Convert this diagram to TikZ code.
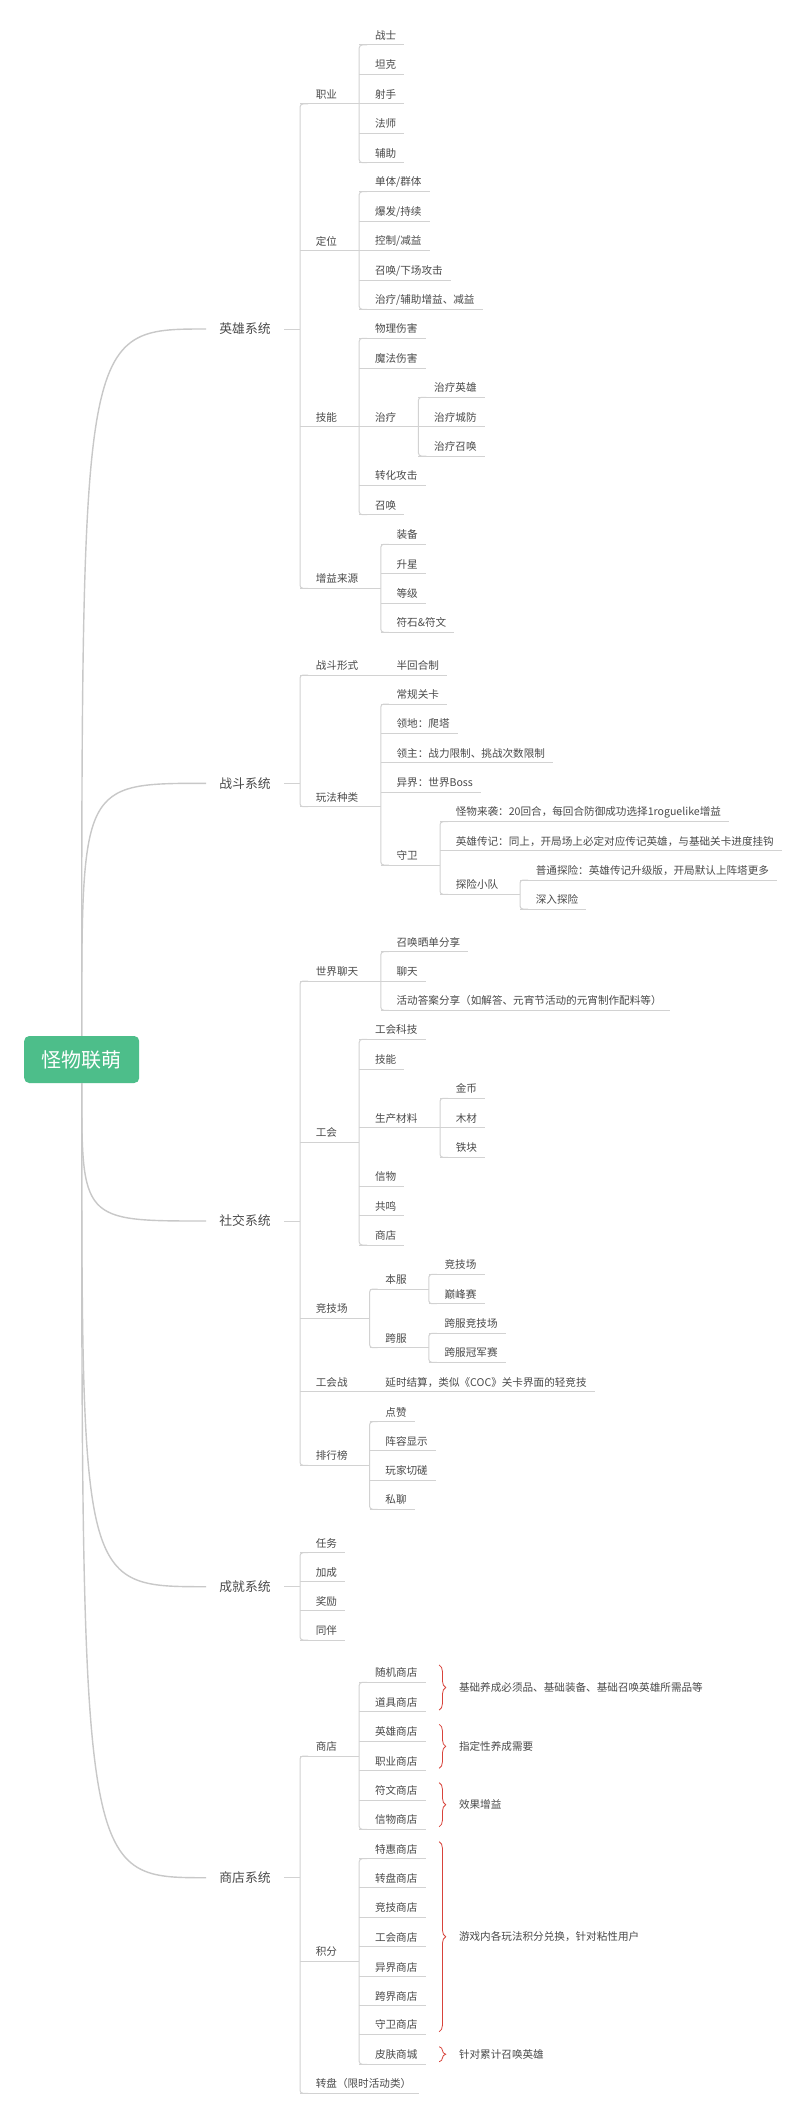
\documentclass[tikz,border=0pt]{standalone}
\usepackage{fontspec}
\newfontfamily\cjk{Noto Sans CJK SC}
\usetikzlibrary{calc,decorations.pathreplacing}
\definecolor{txtc}{HTML}{4A4A4A}
\definecolor{linec}{HTML}{D2D2D2}
\definecolor{curvec}{HTML}{C8C8C8}
\definecolor{rootc}{HTML}{4DBE8A}
\definecolor{bracec}{HTML}{D8433B}
% leaf: name, x of line start, y of line, text
\newcommand\lfnode[4]{%
  \coordinate (#1-s) at (#2,#3);
  \node[txt] (#1) at (#2+15.6,#3-9.5) {#4};
  \draw[sub] (#1-s) -- ($(#1.east |- #1-s)+(8,0)$);
}
% parent: name, x start, y line, text, x end
\newcommand\prnode[5]{%
  \coordinate (#1-s) at (#2,#3);
  \coordinate (#1-e) at (#5,#3);
  \node[txt] (#1) at (#2+15.6,#3-9.5) {#4};
  \draw[sub] (#1-s) -- (#1-e);
}
% main topic: name, y, text
\newcommand\mtnode[3]{%
  \node[maintxt] (#1) at (219.2,#2) {#3};
  \coordinate (#1-in) at (206,#2);
  \coordinate (#1-v) at (300,#2);
  \draw[sub] ($(#1.east)+(13.6,0)$) -- (#1-v);
}
% vertical connector between first and last child
\newcommand\vcon[2]{%
  \draw[conn] ($(#1-s)+(8,0)$) -- (#1-s) -- (#2-s) -- ($(#2-s)+(8,0)$);
}
\begin{document}
\begin{tikzpicture}[x=1pt,y=-1pt,
  txt/.style={anchor=west, inner sep=0pt, font=\cjk\fontsize{10.6}{12}\selectfont, text=txtc},
  maintxt/.style={anchor=west, inner sep=0pt, font=\cjk\fontsize{12.8}{15}\selectfont, text=txtc},
  sub/.style={draw=linec, line width=1pt},
  conn/.style={draw=linec, line width=1pt, rounded corners=3pt},
  curve/.style={draw=curvec, line width=1.4pt},
  brc/.style={draw=bracec, line width=0.8pt, decorate, decoration={brace, amplitude=6.5pt}},
  rootbox/.style={fill=rootc, rounded corners=5pt, minimum width=115pt, minimum height=47pt, text=white, font=\cjk\fontsize{20}{24}\selectfont, inner sep=0pt}]
\fill[white] (0,0) rectangle (810,2119);
\useasboundingbox (0,0) rectangle (810,2119);

% root
\node[rootbox] (root) at (81.7,1059.5) {怪物联萌};

% ===== 英雄系统 =====
\mtnode{hero}{329}{英雄系统}
\prnode{zy}{300}{104}{职业}{359.2}
\lfnode{zs}{359.2}{45}{战士}
\lfnode{tk}{359.2}{74.3}{坦克}
\lfnode{ss}{359.2}{104}{射手}
\lfnode{fs}{359.2}{133.3}{法师}
\lfnode{fz}{359.2}{162.7}{辅助}
\vcon{zs}{fz}
\prnode{dw}{300}{250.7}{定位}{359.2}
\lfnode{dt}{359.2}{191.7}{单体/群体}
\lfnode{bf}{359.2}{221}{爆发/持续}
\lfnode{kz}{359.2}{250.7}{控制/减益}
\lfnode{zh}{359.2}{280}{召唤/下场攻击}
\lfnode{zl}{359.2}{309.3}{治疗/辅助增益、减益}
\vcon{dt}{zl}
\prnode{jn}{300}{426.7}{技能}{359.2}
\lfnode{wl}{359.2}{338.3}{物理伤害}
\lfnode{mf}{359.2}{368.3}{魔法伤害}
\prnode{zlq}{359.2}{426.7}{治疗}{418.4}
\lfnode{zlyx}{418.4}{397.3}{治疗英雄}
\lfnode{zlcf}{418.4}{426.7}{治疗城防}
\lfnode{zlzh}{418.4}{456}{治疗召唤}
\vcon{zlyx}{zlzh}
\lfnode{zhgj}{359.2}{485.3}{转化攻击}
\lfnode{zhh}{359.2}{514.7}{召唤}
\vcon{wl}{zhh}
\prnode{zyly}{300}{588.3}{增益来源}{380.8}
\lfnode{zb}{380.8}{544.3}{装备}
\lfnode{sx}{380.8}{573.7}{升星}
\lfnode{dj}{380.8}{603}{等级}
\lfnode{fw}{380.8}{632.3}{符石\&符文}
\vcon{zb}{fw}
\vcon{zy}{zyly}

% ===== 战斗系统 =====
\mtnode{battle}{783.3}{战斗系统}
\prnode{zdxs}{300}{675}{战斗形式}{380.8}
\lfnode{bhhz}{380.8}{675}{半回合制}
\prnode{wfzl}{300}{806.7}{玩法种类}{380.8}
\lfnode{cggk}{380.8}{704}{常规关卡}
\lfnode{ld}{380.8}{733.3}{领地：爬塔}
\lfnode{lz}{380.8}{762.7}{领主：战力限制、挑战次数限制}
\lfnode{yj}{380.8}{792}{异界：世界Boss}
\prnode{sw}{380.8}{865}{守卫}{440}
\lfnode{gwlx}{440}{821.7}{怪物来袭：20回合，每回合防御成功选择1roguelike增益}
\lfnode{yxzj}{440}{850.7}{英雄传记：同上，开局场上必定对应传记英雄，与基础关卡进度挂钩}
\prnode{txxd}{440}{894.3}{探险小队}{520}
\lfnode{pttx}{520}{880}{普通探险：英雄传记升级版，开局默认上阵塔更多}
\lfnode{srtx}{520}{909}{深入探险}
\vcon{pttx}{srtx}
\vcon{gwlx}{txxd}
\vcon{cggk}{sw}
\vcon{zdxs}{wfzl}

% ===== 社交系统 =====
\mtnode{social}{1221}{社交系统}
\prnode{sjlt}{300}{981}{世界聊天}{380.8}
\lfnode{zhsd}{380.8}{951.7}{召唤晒单分享}
\lfnode{lt}{380.8}{981}{聊天}
\lfnode{hdda}{380.8}{1010.3}{活动答案分享（如解答、元宵节活动的元宵制作配料等）}
\vcon{zhsd}{hdda}
\prnode{gh}{300}{1142.3}{工会}{359.2}
\lfnode{ghkj}{359.2}{1039.3}{工会科技}
\lfnode{ghjn}{359.2}{1069.3}{技能}
\prnode{sccl}{359.2}{1127.7}{生产材料}{440}
\lfnode{jb}{440}{1098.3}{金币}
\lfnode{mc}{440}{1127.7}{木材}
\lfnode{tkk}{440}{1157.3}{铁块}
\vcon{jb}{tkk}
\lfnode{xw}{359.2}{1186}{信物}
\lfnode{gm}{359.2}{1215.7}{共鸣}
\lfnode{ghsd}{359.2}{1245}{商店}
\vcon{ghkj}{ghsd}
\prnode{jjc}{300}{1318.3}{竞技场}{369.6}
\prnode{bfu}{369.6}{1289}{本服}{428.8}
\lfnode{jjcb}{428.8}{1274.3}{竞技场}
\lfnode{dfs}{428.8}{1303.7}{巅峰赛}
\vcon{jjcb}{dfs}
\prnode{kf}{369.6}{1347.7}{跨服}{428.8}
\lfnode{kfjjc}{428.8}{1333.3}{跨服竞技场}
\lfnode{kfgjs}{428.8}{1362.3}{跨服冠军赛}
\vcon{kfjjc}{kfgjs}
\vcon{bfu}{kf}
\prnode{ghz}{300}{1391.7}{工会战}{369.6}
\lfnode{yssj}{369.6}{1391.7}{延时结算，类似《COC》关卡界面的轻竞技}
\prnode{phb}{300}{1465.3}{排行榜}{369.6}
\lfnode{dz}{369.6}{1421.7}{点赞}
\lfnode{zrxs}{369.6}{1450.7}{阵容显示}
\lfnode{wjqc}{369.6}{1480}{玩家切磋}
\lfnode{sl}{369.6}{1509.3}{私聊}
\vcon{dz}{sl}
\vcon{sjlt}{phb}

% ===== 成就系统 =====
\mtnode{ach}{1586.7}{成就系统}
\lfnode{rw}{300}{1552.7}{任务}
\lfnode{jc}{300}{1581.7}{加成}
\lfnode{jl}{300}{1610.7}{奖励}
\lfnode{tb}{300}{1640}{同伴}
\vcon{rw}{tb}

% ===== 商店系统 =====
\mtnode{shop}{1877.7}{商店系统}
\prnode{sd}{300}{1756}{商店}{359.2}
\lfnode{sjsd}{359.2}{1682.3}{随机商店}
\lfnode{djsd}{359.2}{1711.7}{道具商店}
\lfnode{yxsd}{359.2}{1741}{英雄商店}
\lfnode{zysd}{359.2}{1770.7}{职业商店}
\lfnode{fwsd}{359.2}{1800}{符文商店}
\lfnode{xwsd}{359.2}{1829.3}{信物商店}
\vcon{sjsd}{xwsd}
\prnode{jf}{300}{1961}{积分}{359.2}
\lfnode{thsd}{359.2}{1858.7}{特惠商店}
\lfnode{zpsd}{359.2}{1887.7}{转盘商店}
\lfnode{jjsd}{359.2}{1917.3}{竞技商店}
\lfnode{gsd}{359.2}{1946.7}{工会商店}
\lfnode{yjsd}{359.2}{1976.7}{异界商店}
\lfnode{kjsd}{359.2}{2005.7}{跨界商店}
\lfnode{swsd}{359.2}{2034.3}{守卫商店}
\lfnode{pfsc}{359.2}{2064.3}{皮肤商城}
\vcon{thsd}{pfsc}
\lfnode{zp}{300}{2093.3}{转盘（限时活动类）}
\vcon{sd}{zp}

% braces and summaries
\coordinate (b1a) at (439.2,1665);   \coordinate (b1b) at (439.2,1710);
\coordinate (b2a) at (439.2,1724.3); \coordinate (b2b) at (439.2,1768.3);
\coordinate (b3a) at (439.2,1782.7); \coordinate (b3b) at (439.2,1826.7);
\coordinate (b4a) at (439.2,1841.7); \coordinate (b4b) at (439.2,2031.7);
\coordinate (b5a) at (439.2,2046.7); \coordinate (b5b) at (439.2,2061.7);
\draw[brc] (b1a) -- (b1b);
\draw[brc] (b2a) -- (b2b);
\draw[brc] (b3a) -- (b3b);
\draw[brc] (b4a) -- (b4b);
\draw[brc] (b5a) -- (b5b);
\node[txt] (s1) at (458.8,1687.3) {基础养成必须品、基础装备、基础召唤英雄所需品等};
\node[txt] (s2) at (458.8,1746.3) {指定性养成需要};
\node[txt] (s3) at (458.8,1804.3) {效果增益};
\node[txt] (s4) at (458.8,1936.7) {游戏内各玩法积分兑换，针对粘性用户};
\node[txt] (s5) at (458.8,2054.3) {针对累计召唤英雄};

% curves from root to main topics
\draw[curve] (root.north) .. controls (81.7,329) .. (hero-in);
\draw[curve] (root.north) .. controls (81.7,783.3) .. (battle-in);
\draw[curve] (root.south) .. controls (81.7,1221) .. (social-in);
\draw[curve] (root.south) .. controls (81.7,1586.7) .. (ach-in);
\draw[curve] (root.south) .. controls (81.7,1877.7) .. (shop-in);
\end{tikzpicture}
\end{document}
